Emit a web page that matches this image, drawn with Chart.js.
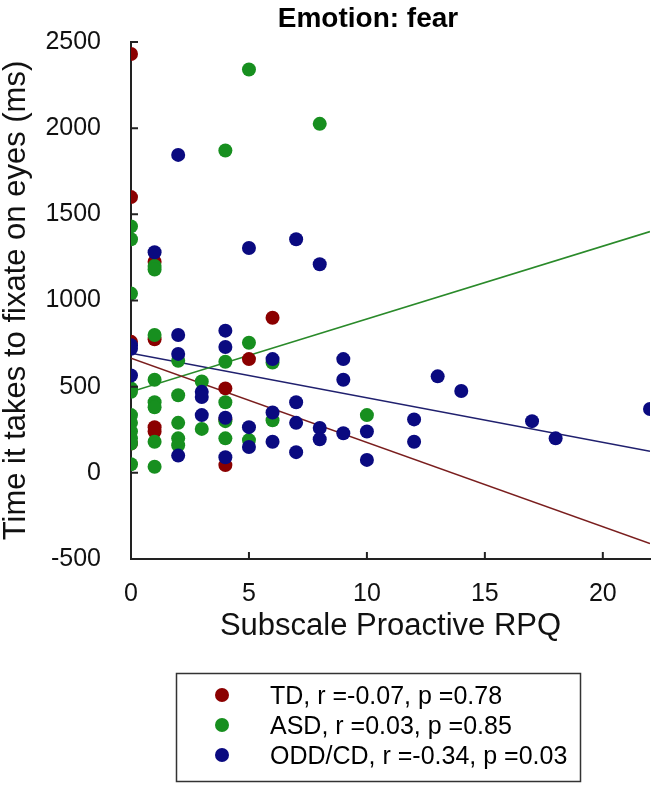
<!DOCTYPE html>
<html>
<head>
<meta charset="utf-8">
<script src="https://cdn.jsdelivr.net/npm/chart.js@4.4.1/dist/chart.umd.min.js"></script>
<style>
  html, body { margin: 0; padding: 0; background: #fff; }
  #wrap { width: 664px; height: 786px; }
</style>
</head>
<body>
<div id="wrap"><canvas id="chart" width="664" height="786"></canvas></div>
<script>
/* ===============================
   Data
================================ */
const chartTitle = "Emotion: fear";
const xTitle = "Subscale Proactive RPQ";
const yTitle = "Time it takes to fixate on eyes (ms)";

const xTicks = [0, 5, 10, 15, 20];
const yTicks = [-500, 0, 500, 1000, 1500, 2000, 2500];

// TD
const tdX = [0, 0, 0, 0, 1, 1, 1, 1, 4, 4, 4, 5, 6];
const tdY = [2430, 1600, 760, 170, 1225, 775, 265, 240, 490, 310, 45, 660, 900];

// ASD
const asdX = [0, 0, 0, 0, 0, 0, 0, 0, 0, 0, 0,
              1, 1, 1, 1, 1, 1, 1, 1,
              2, 2, 2, 2, 2,
              3, 3,
              4, 4, 4, 4, 4,
              5, 5, 5,
              6, 6,
              8, 10];
const asdY = [1430, 1355, 1040, 490, 470, 335, 290, 240, 200, 170, 50,
              1200, 1180, 800, 540, 410, 380, 180, 35,
              650, 450, 290, 200, 160,
              530, 255,
              1870, 645, 410, 300, 200,
              2340, 755, 190,
              640, 305,
              2025, 335];

// ODD/CD
const oddX = [0, 0, 0, 1, 2, 2, 2, 2, 3, 3, 3, 4, 4, 4, 4, 5, 5, 5,
              6, 6, 6, 7, 7, 7, 7, 8, 8, 8, 9, 9, 9, 10, 10,
              12, 12, 13, 14, 17, 18, 22];
const oddY = [740, 720, 565, 1280, 1845, 800, 690, 100, 470, 440, 335, 825, 730, 320, 90, 1305, 265, 150,
              660, 350, 180, 1355, 410, 290, 120, 1210, 260, 195, 660, 540, 230, 240, 75,
              310, 180, 560, 475, 300, 200, 370];

// regression lines (end points)
const fitX = [0, 22];
const tdFit = [665, -410];
const asdFit = [470, 1400];
const oddFit = [694, 125];

const groupLabels = [
  "TD, r =-0.07, p =0.78",
  "ASD, r =0.03, p =0.85",
  "ODD/CD, r =-0.34, p =0.03"
];
const groupColors = ["#8b0000", "#178f1f", "#0a0a80"];

/* ===============================
   Helpers
================================ */
const toPoints = (xs, ys) => xs.map((x, i) => ({ x: x, y: ys[i] }));

function scatterSet(label, xs, ys, color, order) {
  return {
    type: "scatter",
    label: label,
    data: toPoints(xs, ys),
    backgroundColor: color,
    borderWidth: 0,
    pointRadius: 7,
    order: order
  };
}

function fitSet(ys, color) {
  return {
    type: "line",
    data: toPoints(fitX, ys),
    borderColor: color,
    borderWidth: 1.6,
    pointRadius: 0,
    fill: false,
    tension: 0,
    order: 10
  };
}

/* ===============================
   Plugins
================================ */
const inwardTicks = {
  id: "inwardTicks",
  afterDatasetsDraw(chart) {
    const { ctx, scales: { x, y } } = chart;
    ctx.save();
    ctx.strokeStyle = "#222";
    ctx.lineWidth = 2;
    ctx.beginPath();
    xTicks.forEach(v => {
      if (v === 0) return;
      const px = x.getPixelForValue(v);
      ctx.moveTo(px, y.bottom);
      ctx.lineTo(px, y.bottom - 7);
    });
    yTicks.forEach(v => {
      if (v === yTicks[0]) return;
      const py = y.getPixelForValue(v);
      ctx.moveTo(x.left, py);
      ctx.lineTo(x.left + 7, py);
    });
    ctx.stroke();
    ctx.restore();
  }
};

const headerAndLegend = {
  id: "headerAndLegend",
  afterDraw(chart) {
    const ctx = chart.ctx;
    ctx.save();

    // title
    ctx.fillStyle = "#000";
    ctx.font = "bold 28px 'Liberation Sans', Arial, sans-serif";
    ctx.textAlign = "center";
    ctx.textBaseline = "alphabetic";
    ctx.fillText(chartTitle, 368, 27);

    // legend box
    ctx.strokeStyle = "#333";
    ctx.lineWidth = 1.5;
    ctx.strokeRect(176.5, 673.5, 404, 108);

    ctx.font = "25px 'Liberation Sans', Arial, sans-serif";
    ctx.textAlign = "left";
    groupLabels.forEach((label, i) => {
      const cy = 695 + i * 30;
      ctx.fillStyle = groupColors[i];
      ctx.beginPath();
      ctx.arc(222, cy, 7, 0, Math.PI * 2);
      ctx.fill();
      ctx.fillStyle = "#000";
      ctx.fillText(label, 270, cy + 8.5);
    });

    ctx.restore();
  }
};

/* ===============================
   Chart
================================ */
Chart.defaults.font.family = "'Liberation Sans', Arial, sans-serif";
Chart.defaults.color = "#111";

new Chart(document.getElementById("chart"), {
  type: "scatter",
  data: {
    datasets: [
      scatterSet(groupLabels[0], tdX, tdY, groupColors[0], 3),
      scatterSet(groupLabels[1], asdX, asdY, groupColors[1], 2),
      scatterSet(groupLabels[2], oddX, oddY, groupColors[2], 1),
      fitSet(tdFit, "#7a1e1e"),
      fitSet(asdFit, "#2a8a2a"),
      fitSet(oddFit, "#20206e")
    ]
  },
  options: {
    responsive: false,
    animation: false,
    layout: {
      padding: { top: 42, right: 14, bottom: 146, left: 0 }
    },
    plugins: {
      legend: { display: false },
      tooltip: { enabled: false }
    },
    scales: {
      x: {
        type: "linear",
        min: 0,
        max: 22,
        afterBuildTicks: s => { s.ticks = xTicks.map(v => ({ value: v })); },
        afterFit: s => { s.height = 81; },
        grid: { display: false },
        border: { display: true, color: "#222", width: 2 },
        ticks: { font: { size: 25 }, padding: 12, maxRotation: 0, color: "#111",
                 callback: v => String(v) },
        title: {
          display: true,
          text: xTitle,
          font: { size: 31, lineHeight: 0.9 },
          padding: 0,
          color: "#111"
        }
      },
      y: {
        type: "linear",
        min: -500,
        max: 2500,
        afterBuildTicks: s => { s.ticks = yTicks.map(v => ({ value: v })); },
        afterFit: s => { s.width = 131; },
        grid: { display: false },
        border: { display: true, color: "#222", width: 2 },
        ticks: { font: { size: 25 }, padding: 22, color: "#111",
                 callback: v => String(v) },
        title: {
          display: true,
          text: yTitle,
          font: { size: 31, lineHeight: 0.9 },
          padding: { top: 3, bottom: 0 },
          color: "#111"
        }
      }
    }
  },
  plugins: [inwardTicks, headerAndLegend]
});
</script>
</body>
</html>
